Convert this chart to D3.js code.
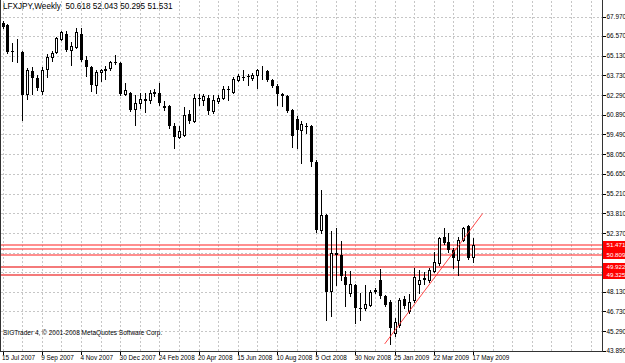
<!DOCTYPE html>
<html>
<head>
<meta charset="utf-8">
<script src="https://cdn.jsdelivr.net/npm/d3@7"></script>
<style>
body { margin: 0; background: #fff; }
svg { display: block; font-family: "Liberation Sans", Arial, sans-serif; }
</style>
</head>
<body>
<div id="chart"></div>
<script>
// weekly LFXJPY candles, 15 Jul 2007 .. 17 May 2009
const symbolName = "LFXJPY,Weekly";
const firstWeek = "2007-07-15";
const copyright = "SIGTrader 4, © 2001-2008 MetaQuotes Software Corp.";

const openP = [67.47, 67.36, 65.49, 65.45, 65.41, 62.39, 64.04, 63.54, 62.60, 64.19,
  65.07, 65.38, 66.35, 66.71, 65.56, 65.77, 66.71, 64.87, 64.33, 63.04,
  63.99, 64.12, 64.26, 64.69, 64.62, 62.39, 62.46, 61.31, 61.74, 61.99,
  61.95, 62.46, 62.46, 61.49, 61.52, 60.08, 59.29, 59.43, 60.98, 60.41,
  62.10, 61.95, 62.13, 61.13, 61.85, 62.10, 62.75, 62.50, 63.40, 63.61,
  63.65, 63.54, 63.76, 64.08, 64.04, 63.36, 62.96, 62.42, 62.24, 61.23,
  60.62, 59.76, 60.08, 60.08, 57.52, 52.59, 53.67, 48.16, 50.93, 50.79,
  49.20, 48.05, 48.63, 46.97, 46.97, 47.19, 48.16, 49.02, 47.80, 47.40,
  45.17, 45.74, 47.65, 46.72, 47.55, 48.70, 49.09, 48.99, 49.60, 50.23,
  52.11, 51.75, 51.15, 50.43, 51.87, 52.88, 50.618];
const highP = [67.65, 67.43, 66.06, 66.35, 65.49, 64.26, 64.33, 63.76, 64.33, 65.27,
  65.49, 66.49, 66.96, 66.93, 66.10, 67.14, 67.11, 65.09, 64.40, 64.12,
  64.22, 64.40, 64.73, 65.20, 64.69, 63.18, 62.53, 62.32, 62.46, 62.46,
  62.71, 62.75, 63.18, 61.88, 61.59, 60.30, 60.08, 61.45, 61.23, 62.42,
  62.39, 62.39, 62.32, 62.32, 62.32, 62.96, 62.96, 63.61, 63.86, 64.15,
  63.86, 63.90, 64.22, 64.40, 64.15, 63.50, 63.14, 62.46, 62.32, 61.34,
  60.77, 60.41, 60.30, 60.15, 57.63, 55.47, 53.74, 52.48, 52.73, 51.76,
  49.60, 49.60, 48.70, 48.05, 48.63, 48.27, 48.41, 49.81, 47.91, 47.55,
  46.25, 47.69, 47.83, 47.98, 49.85, 49.71, 49.56, 49.85, 51.03, 52.11,
  52.71, 52.35, 51.27, 52.11, 52.80, 52.95, 52.043];
const lowP = [67.14, 65.34, 64.76, 64.69, 60.51, 62.03, 62.39, 62.68, 62.39, 63.61,
  64.76, 65.34, 66.28, 65.49, 64.48, 65.70, 64.76, 63.68, 62.60, 62.46,
  63.29, 63.47, 64.12, 64.58, 62.28, 62.28, 61.16, 60.15, 61.38, 61.09,
  61.74, 62.21, 61.59, 61.23, 59.94, 58.50, 59.22, 59.33, 60.30, 60.37,
  61.59, 61.59, 60.95, 61.02, 61.74, 61.99, 61.95, 62.46, 63.29, 63.40,
  63.04, 63.40, 62.82, 63.47, 63.29, 62.89, 61.59, 61.49, 61.09, 58.57,
  58.50, 57.42, 59.58, 57.20, 52.44, 52.37, 46.10, 46.36, 48.63, 48.99,
  47.08, 47.83, 45.89, 46.10, 46.83, 47.11, 48.05, 47.69, 47.11, 44.38,
  44.95, 45.60, 46.97, 46.61, 47.40, 48.05, 48.70, 48.84, 49.56, 50.07,
  51.58, 51.00, 49.83, 49.35, 51.80, 50.50, 50.295];
const closeP = [67.21, 65.41, 65.41, 65.49, 62.32, 64.12, 63.54, 62.82, 64.12, 65.05,
  65.36, 66.42, 66.85, 65.56, 65.85, 66.82, 64.84, 64.33, 63.04, 63.97,
  64.15, 64.22, 64.66, 64.66, 62.35, 62.71, 61.23, 61.74, 62.03, 61.88,
  62.46, 62.50, 61.74, 61.38, 60.05, 59.29, 59.69, 60.87, 60.41, 62.10,
  62.03, 62.21, 61.16, 61.95, 62.13, 62.78, 62.71, 63.50, 63.68, 63.58,
  63.61, 63.76, 64.08, 64.12, 63.36, 62.96, 62.39, 62.21, 61.16, 59.33,
  59.76, 60.26, 60.05, 57.52, 52.59, 53.67, 48.14, 50.90, 50.75, 49.24,
  48.63, 48.70, 46.97, 46.90, 47.26, 48.12, 48.23, 47.80, 47.19, 45.53,
  45.96, 47.55, 47.08, 47.37, 49.20, 48.99, 49.13, 49.71, 50.30, 51.99,
  51.67, 51.15, 50.55, 51.87, 52.71, 50.55, 51.531];

const priceTicks = [67.970, 66.570, 65.130, 63.730, 62.290, 60.890, 59.490, 58.050,
  56.650, 55.210, 53.810, 52.370, 50.930, 49.530, 48.130, 46.730, 45.290, 43.890];
const hiddenTicks = [50.930, 49.530]; // labels sit under the level boxes
const dateLabels = ["15 Jul 2007", "9 Sep 2007", "4 Nov 2007", "30 Dec 2007", "24 Feb 2008",
  "20 Apr 2008", "15 Jun 2008", "10 Aug 2008", "5 Oct 2008", "30 Nov 2008",
  "25 Jan 2009", "22 Mar 2009", "17 May 2009"];

// horizontal levels and the support trendline
const levelPrices = [51.471, 51.215, 50.809, 49.922, 49.325];
const trendDates = ["2009-01-11", "2009-05-31"];
const trendPrices = [44.38, 53.78];

const width = 625, height = 363;
const plotRight = 602.5, plotBottom = 351.5;
const fmt = d3.format(".3f");

const parseIso = d3.utcParse("%Y-%m-%d");
const parseLabel = d3.utcParse("%d %b %Y");
const start = parseIso(firstWeek);
const weeks = d3.utcWeek.range(start, d3.utcWeek.offset(start, openP.length));

const bars = weeks.map((d, i) => ({
  date: d, o: openP[i], h: highP[i], l: lowP[i], c: closeP[i]
}));

const x = d3.scaleUtc()
  .domain([weeks[0], weeks[weeks.length - 1]])
  .range([2.5, 472.9]);
const y = d3.scaleLinear()
  .domain([43.89, 67.97])
  .range([350.7, 16.5]);

const svg = d3.select("#chart").append("svg")
  .attr("width", width)
  .attr("height", height)
  .attr("viewBox", [0, 0, width, height]);

svg.append("rect").attr("width", width).attr("height", height).attr("fill", "#fff");

// grid
const grid = svg.append("g")
  .attr("stroke", "#c6c6c6")
  .attr("stroke-dasharray", "2,2")
  .attr("shape-rendering", "crispEdges");
const gridWeeks = d3.utcWeek.range(start, x.invert(plotRight), 4);
grid.selectAll(".gx").data(gridWeeks).join("line")
  .attr("x1", d => Math.round(x(d)) + 0.5).attr("x2", d => Math.round(x(d)) + 0.5)
  .attr("y1", 1).attr("y2", plotBottom);
grid.selectAll(".gy").data(priceTicks).join("line")
  .attr("x1", 1).attr("x2", plotRight)
  .attr("y1", d => Math.round(y(d)) + 0.5).attr("y2", d => Math.round(y(d)) + 0.5);

// levels
const lvl = svg.append("g");
lvl.selectAll("line").data(levelPrices).join("line")
  .attr("x1", 1).attr("x2", plotRight)
  .attr("y1", d => Math.round(y(d)))
  .attr("y2", d => Math.round(y(d)))
  .attr("stroke", (d, i) => i < 3 ? "#ff2020" : "#f47a7a")
  .attr("stroke-width", (d, i) => i < 3 ? 1.1 : 2);

// candles
const cx = d => Math.round(x(d.date)) + 0.5;
const candle = svg.append("g").attr("shape-rendering", "crispEdges");
candle.selectAll(".wick").data(bars).join("line")
  .attr("x1", cx).attr("x2", cx)
  .attr("y1", d => Math.round(y(d.h))).attr("y2", d => Math.round(y(d.l)) + 1)
  .attr("stroke", "#000");
candle.selectAll(".body").data(bars).join("rect")
  .attr("x", d => d.c >= d.o ? cx(d) - 1 : cx(d) - 1.5)
  .attr("width", d => d.c >= d.o ? 2 : 3)
  .attr("y", d => d.c >= d.o ? Math.round(y(d.c)) + 0.5 : Math.round(y(d.o)))
  .attr("height", d => {
    const hgt = Math.abs(Math.round(y(d.c)) - Math.round(y(d.o)));
    return d.c >= d.o ? Math.max(hgt, 0) : Math.max(hgt, 1);
  })
  .attr("fill", d => d.c >= d.o ? "#fff" : "#000")
  .attr("stroke", d => d.c >= d.o ? "#000" : "none");

// trendline
svg.append("line")
  .attr("x1", x(parseIso(trendDates[0]))).attr("y1", y(trendPrices[0]))
  .attr("x2", x(parseIso(trendDates[1]))).attr("y2", y(trendPrices[1]))
  .attr("stroke", "#f33")
  .attr("stroke-width", 0.9);

// frame
svg.append("path")
  .attr("d", `M0.5,0V${plotBottom}H${plotRight}V0`)
  .attr("fill", "none")
  .attr("stroke", "#333")
  .attr("shape-rendering", "crispEdges");

// axes
const yAxis = svg.append("g")
  .attr("transform", `translate(${plotRight},0)`)
  .call(d3.axisRight(y).tickValues(priceTicks)
    .tickFormat(d => hiddenTicks.includes(d) ? "" : fmt(d))
    .tickSize(3).tickPadding(1))
  .call(g => g.select(".domain").remove());
yAxis.selectAll("text").attr("font-size", 6.4).attr("fill", "#000").attr("font-family", "Liberation Sans, Arial, sans-serif");
yAxis.selectAll("line").attr("stroke", "#000").attr("shape-rendering", "crispEdges");

const labelDates = dateLabels.map(parseLabel);
const xAxis = svg.append("g")
  .attr("transform", `translate(0,${plotBottom})`)
  .call(d3.axisBottom(x).tickValues(labelDates).tickFormat((d, i) => dateLabels[i]).tickSize(3).tickPadding(1))
  .call(g => g.select(".domain").remove());
xAxis.selectAll(".tick line").attr("stroke", "#000").attr("shape-rendering", "crispEdges");
xAxis.selectAll("text")
  .attr("text-anchor", "start").attr("x", -1).attr("dy", "0.71em")
  .attr("font-size", 6.4).attr("fill", "#000").attr("font-family", "Liberation Sans, Arial, sans-serif");

// price boxes on the axis: current bid and 51.215 sit under the others
const boxes = [{p: closeP[closeP.length - 1], fill: "#000", label: false},
  {p: levelPrices[1], fill: "#f00", label: false}]
  .concat(levelPrices.filter((p, i) => i !== 1).map(p => ({p, fill: "#f00", label: true})));
const box = svg.append("g").selectAll("g").data(boxes).join("g")
  .attr("transform", d => `translate(${plotRight + 0.5},${Math.round(y(d.p))})`);
box.append("rect")
  .attr("x", 0).attr("y", -4).attr("width", 22).attr("height", 8)
  .attr("fill", d => d.fill);
box.filter(d => d.label).append("text")
  .attr("x", 3.5).attr("y", 2.4)
  .attr("font-size", 6.2).attr("fill", "#fff")
  .text(d => fmt(d.p));

// header and copyright
svg.append("text")
  .attr("x", 3).attr("y", 9)
  .attr("font-size", 8.2).attr("fill", "#000")
  .attr("xml:space", "preserve")
  .text(`${symbolName}  ${[openP, highP, lowP, closeP].map(a => fmt(a[a.length - 1])).join(" ")}`);
svg.append("text")
  .attr("x", 3).attr("y", 335)
  .attr("font-size", 6.5).attr("fill", "#000")
  .text(copyright);
</script>
</body>
</html>
